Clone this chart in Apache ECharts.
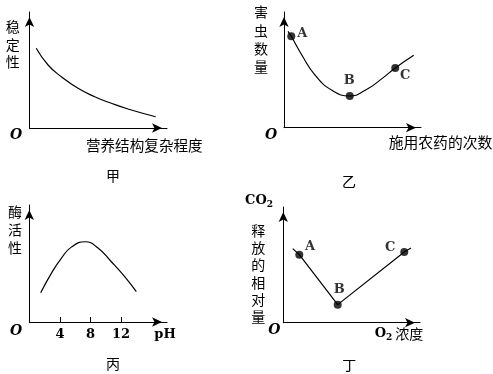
<!DOCTYPE html>
<html><head><meta charset="utf-8">
<script src="https://cdn.jsdelivr.net/npm/echarts@6/dist/echarts.min.js"></script>
<style>html,body{margin:0;padding:0;background:#fff}#c{width:493px;height:374px}</style>
</head><body><div id="c"></div>
<script>
// 甲
const jiaX = [0.49, 1.35, 2.31, 3.53, 4.74, 5.95, 7.16, 9.18];
const jiaY = [6.87, 5.43, 4.42, 3.42, 2.70, 2.13, 1.64, 0.97];
// 乙
const yiX = [0.29, 0.53, 1.31, 2.28, 3.50, 4.80, 5.93, 7.15, 8.12, 9.47];
const yiY = [8.33, 7.90, 6.26, 4.53, 3.23, 2.74, 3.23, 4.24, 5.16, 6.26];
const yiPtName = ['A', 'B', 'C'];
const yiPtX = [0.53, 4.80, 8.12];
const yiPtY = [7.90, 2.74, 5.16];
// 丙
const bingPH = [1.49, 2.88, 4.18, 5.49, 7.32, 8.98, 10.72, 12.47, 13.99];
const bingAct = [2.50, 4.16, 5.44, 6.40, 6.86, 6.32, 5.15, 3.87, 2.59];
const bingTicks = [4, 8, 12];
// 丁
const dingX = [0.69, 1.17, 3.98, 8.85, 9.34];
const dingY = [6.40, 5.88, 1.56, 6.11, 6.46];
const dingPtName = ['A', 'B', 'C'];
const dingPtX = [1.17, 3.98, 8.85];
const dingPtY = [5.88, 1.56, 6.11];
// texts
const panelNames = ['甲', '乙', '丙', '丁'];
const yNames = ['稳定性', '害虫数量', '酶活性', '释放的相对量'];
const xNames = ['营养结构复杂程度', '施用农药的次数', 'pH', 'O₂ 浓度'];

const CJK = '"Noto Sans CJK SC", sans-serif';
const SERIF = '"DejaVu Serif", "Liberation Serif", serif';

const chart = echarts.init(document.getElementById('c'), null, {renderer: 'canvas'});

function axisLine() {
  return {show: true, onZero: false, symbol: ['none', 'arrow'], symbolSize: [7, 10], symbolOffset: [0, -5],
    lineStyle: {color: '#000', width: 1}};
}
function xAx(grid, max, extra) {
  return Object.assign({type: 'value', gridIndex: grid, min: 0, max: max, axisLine: axisLine(),
    axisTick: {show: false}, axisLabel: {show: false}, splitLine: {show: false}}, extra || {});
}
function yAx(grid) {
  return {type: 'value', gridIndex: grid, min: 0, max: 10, axisLine: axisLine(),
    axisTick: {show: false}, axisLabel: {show: false}, splitLine: {show: false}};
}
const zip = (a, b) => a.map((v, i) => [v, b[i]]);
const lineStyle = {color: '#000', width: 1.2};

function pts(names, xs, ys, offs) {
  return names.map((n, i) => ({name: n, value: [xs[i], ys[i]],
    label: {show: true, position: 'inside', offset: offs[i], formatter: '{b}',
      color: '#000', fontFamily: SERIF, fontSize: 13, fontWeight: 'bold'}}));
}

function txt(x, y, text, font, extra) {
  return Object.assign({type: 'text', x: x, y: y, style: Object.assign({text: text, fill: '#000', font: font,
    align: 'center', verticalAlign: 'middle', textAlign: 'center', textVerticalAlign: 'middle'}, extra || {})});
}

const option = {
  backgroundColor: '#fff',
  animation: false,
  grid: [
    {left: 29.5, top: 12, width: 137.5, height: 116, containLabel: false},
    {left: 284, top: 12, width: 137, height: 115.7, containLabel: false},
    {left: 29.3, top: 205, width: 137.7, height: 117, containLabel: false},
    {left: 283.3, top: 207, width: 136.7, height: 115.7, containLabel: false}
  ],
  xAxis: [
    xAx(0, 10), xAx(1, 10),
    xAx(2, 18, {
      axisTick: {show: true, inside: true, length: 5, lineStyle: {color: '#000'}, customValues: bingTicks},
      axisLabel: {show: true, customValues: bingTicks, margin: 6, color: '#000', fontFamily: SERIF, fontSize: 13, fontWeight: 'bold'}
    }),
    xAx(3, 10)
  ],
  yAxis: [yAx(0), yAx(1), yAx(2), yAx(3)],
  series: [
    {type: 'line', xAxisIndex: 0, yAxisIndex: 0, data: zip(jiaX, jiaY), smooth: 0.5, showSymbol: false, lineStyle: lineStyle},
    {type: 'line', xAxisIndex: 1, yAxisIndex: 1, data: zip(yiX, yiY), smooth: 0.5, showSymbol: false, lineStyle: lineStyle},
    {type: 'scatter', xAxisIndex: 1, yAxisIndex: 1, symbolSize: 8, itemStyle: {color: '#000'},
      data: pts(yiPtName, yiPtX, yiPtY, [[11, -3], [-0.5, -15], [10, 8]])},
    {type: 'line', xAxisIndex: 2, yAxisIndex: 2, data: zip(bingPH, bingAct), smooth: 0.5, showSymbol: false, lineStyle: lineStyle},
    {type: 'line', xAxisIndex: 3, yAxisIndex: 3, data: zip(dingX, dingY), smooth: false, showSymbol: false, lineStyle: lineStyle},
    {type: 'scatter', xAxisIndex: 3, yAxisIndex: 3, symbolSize: 8, itemStyle: {color: '#000'},
      data: pts(dingPtName, dingPtX, dingPtY, [[10.7, -7.7], [1.6, -15], [-14, -4]])}
  ],
  graphic: [
    // panel names
    txt(113, 175.5, panelNames[0], '14px ' + CJK),
    txt(349, 181.5, panelNames[1], '14px ' + CJK),
    txt(113, 363.5, panelNames[2], '14px ' + CJK),
    txt(349.3, 365, panelNames[3], '14px ' + CJK),
    // y names (vertical)
    txt(12.7, 44.3, yNames[0].split('').join('\n'), '14px ' + CJK, {lineHeight: 17.5}),
    txt(261, 39.5, yNames[1].split('').join('\n'), '14px ' + CJK, {lineHeight: 18.3}),
    txt(15, 230, yNames[2].split('').join('\n'), '14px ' + CJK, {lineHeight: 18}),
    txt(258.3, 273.7, yNames[3].split('').join('\n'), '14px ' + CJK, {lineHeight: 17.3}),
    // x names
    txt(144.3, 145.5, xNames[0], '14.6px ' + CJK),
    txt(440.5, 142, xNames[1], '14.8px ' + CJK),
    txt(165, 335, xNames[2], 'bold 13px ' + SERIF),
    {type: 'text', x: 399, y: 333.7, style: {text: '{a|O}{s|2}{c| 浓度}', fill: '#000',
      align: 'center', verticalAlign: 'middle', textAlign: 'center', textVerticalAlign: 'middle',
      rich: {a: {font: 'bold 13px ' + SERIF, fill: '#000'}, s: {font: 'bold 9px ' + SERIF, fill: '#000', padding: [8, 0, 0, 0]},
        c: {font: '14px ' + CJK, fill: '#000'}}}},
    {type: 'text', x: 259, y: 201, style: {text: '{a|CO}{s|2}', fill: '#000',
      align: 'center', verticalAlign: 'middle', textAlign: 'center', textVerticalAlign: 'middle',
      rich: {a: {font: 'bold 13px ' + SERIF, fill: '#000'}, s: {font: 'bold 9px ' + SERIF, fill: '#000', padding: [8, 0, 0, 0]}}}},
    // origins
    txt(16, 135, 'O', 'italic bold 14px ' + SERIF),
    txt(271, 135, 'O', 'italic bold 14px ' + SERIF),
    txt(16, 331, 'O', 'italic bold 14px ' + SERIF),
    txt(274.3, 330.3, 'O', 'italic bold 14px ' + SERIF)
  ]
};
chart.setOption(option);
</script>
</body></html>
